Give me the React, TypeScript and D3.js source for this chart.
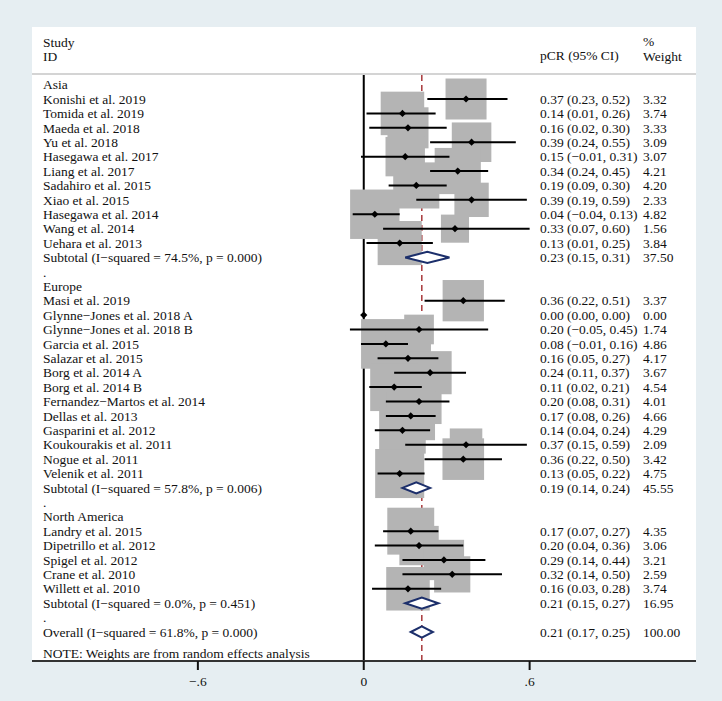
import React from "react";
import * as d3 from "d3";

// ---------------- data ----------------
const groupNames = ["Asia", "Europe", "North America"];

const studyNames = [
  "Konishi et al. 2019", "Tomida et al. 2019", "Maeda et al. 2018", "Yu et al. 2018",
  "Hasegawa et al. 2017", "Liang et al. 2017", "Sadahiro et al. 2015", "Xiao et al. 2015",
  "Hasegawa et al. 2014", "Wang et al. 2014", "Uehara et al. 2013",
  "Masi et al. 2019", "Glynne−Jones et al. 2018 A", "Glynne−Jones et al. 2018 B",
  "Garcia et al. 2015", "Salazar et al. 2015", "Borg et al. 2014 A", "Borg et al. 2014 B",
  "Fernandez−Martos et al. 2014", "Dellas et al. 2013", "Gasparini et al. 2012",
  "Koukourakis et al. 2011", "Nogue et al. 2011", "Velenik et al. 2011",
  "Landry et al. 2015", "Dipetrillo et al. 2012", "Spigel et al. 2012",
  "Crane et al. 2010", "Willett et al. 2010",
];
const studyGroup = [
  0, 0, 0, 0, 0, 0, 0, 0, 0, 0, 0,
  1, 1, 1, 1, 1, 1, 1, 1, 1, 1, 1, 1, 1,
  2, 2, 2, 2, 2,
];
const pointEstimates = [
  0.37, 0.14, 0.16, 0.39, 0.15, 0.34, 0.19, 0.39, 0.04, 0.33, 0.13,
  0.36, 0.0, 0.2, 0.08, 0.16, 0.24, 0.11, 0.2, 0.17, 0.14, 0.37, 0.36, 0.13,
  0.17, 0.2, 0.29, 0.32, 0.16,
];
const lowerCI = [
  0.23, 0.01, 0.02, 0.24, -0.01, 0.24, 0.09, 0.19, -0.04, 0.07, 0.01,
  0.22, 0.0, -0.05, -0.01, 0.05, 0.11, 0.02, 0.08, 0.08, 0.04, 0.15, 0.22, 0.05,
  0.07, 0.04, 0.14, 0.14, 0.03,
];
const upperCI = [
  0.52, 0.26, 0.3, 0.55, 0.31, 0.45, 0.3, 0.59, 0.13, 0.6, 0.25,
  0.51, 0.0, 0.45, 0.16, 0.27, 0.37, 0.21, 0.31, 0.26, 0.24, 0.59, 0.5, 0.22,
  0.27, 0.36, 0.44, 0.5, 0.28,
];
const weights = [
  3.32, 3.74, 3.33, 3.09, 3.07, 4.21, 4.2, 2.33, 4.82, 1.56, 3.84,
  3.37, 0.0, 1.74, 4.86, 4.17, 3.67, 4.54, 4.01, 4.66, 4.29, 2.09, 3.42, 4.75,
  4.35, 3.06, 3.21, 2.59, 3.74,
];

const subtotalI2 = ["74.5%", "57.8%", "0.0%"];
const subtotalP = ["0.000", "0.006", "0.451"];
const subtotalES = [0.23, 0.19, 0.21];
const subtotalLo = [0.15, 0.14, 0.15];
const subtotalHi = [0.31, 0.24, 0.27];
const subtotalW = [37.5, 45.55, 16.95];

const overallI2 = "61.8%";
const overallP = "0.000";
const overallES = [0.21, 0.17, 0.25];
const overallW = 100;

const tickValues = [-0.6, 0, 0.6];
const tickLabels = ["−.6", "0", ".6"];

// ---------------- layout ----------------
const W = 722;
const H = 701;
const panel = { x0: 32, x1: 696, y0: 27, y1: 661 };
const row0 = 84.6;
const rowStep = 14.405;
const textX = 43;
const esX = 540;
const wX = 643;
const fontSize = 13.5;
const font = '"Liberation Serif", "Times New Roman", Times, serif';
const boxK = 22.5;
const navy = "#1c2f6b";
const grey = "#b4b4b4";
const bg = "#e6eef2";

type Row =
  | { kind: "header"; label: string }
  | { kind: "study"; idx: number }
  | { kind: "subtotal"; g: number }
  | { kind: "dot" }
  | { kind: "overall" };

function buildRows(): Row[] {
  const rows: Row[] = [];
  groupNames.forEach((g, gi) => {
    rows.push({ kind: "header", label: g });
    studyNames.forEach((_, i) => {
      if (studyGroup[i] === gi) rows.push({ kind: "study", idx: i });
    });
    rows.push({ kind: "subtotal", g: gi });
    rows.push({ kind: "dot" });
  });
  rows.push({ kind: "overall" });
  return rows;
}

export default function App() {
  const x = d3.scaleLinear().domain([-1.2, 1.2]).range([32, 695.5]);
  const rows = buildRows();
  const y = (i: number) => row0 + rowStep * i;
  const f2 = d3.format(".2f");
  const esText = (e: number, l: number, h: number) => `${f2(e)} (${f2(l)}, ${f2(h)})`;
  const diamond = (e: number, l: number, h: number, cy: number) => {
    const hh = 5.6;
    return d3.line()([
      [x(l), cy],
      [x(e), cy - hh],
      [x(h), cy],
      [x(e), cy + hh],
      [x(l), cy],
    ]) + "Z";
  };
  const txt = { fontFamily: font, fontSize, fill: "#111", whiteSpace: "pre" as const };

  const studyRows = rows
    .map((r, i) => ({ r, i }))
    .filter((d) => d.r.kind === "study") as { r: { kind: "study"; idx: number }; i: number }[];

  const lineTop = 75;

  return (
    <svg width={W} height={H} style={{ position: "absolute", left: 0, top: 0, display: "block" }}>
      <rect x={0} y={0} width={W} height={H} fill={bg} />
      <rect x={panel.x0} y={panel.y0} width={panel.x1 - panel.x0} height={panel.y1 - panel.y0} fill="#fff" />

      {/* header */}
      <text x={textX} y={47} style={txt}>Study</text>
      <text x={textX} y={61} style={txt}>ID</text>
      <text x={esX} y={60} style={txt}>pCR (95% CI)</text>
      <text x={wX} y={46} style={txt}>%</text>
      <text x={wX} y={61} style={txt}>Weight</text>
      <line x1={panel.x0} x2={panel.x1} y1={74} y2={74} stroke="#c6c6c6" strokeWidth={1.5} />

      {/* reference lines */}
      <line x1={x(overallES[0])} x2={x(overallES[0])} y1={lineTop} y2={panel.y1} stroke="#a8383a" strokeWidth={1.5} strokeDasharray="6,4" />
      <line x1={x(0)} x2={x(0)} y1={lineTop} y2={panel.y1} stroke="#000" strokeWidth={2} />

      {/* boxes */}
      {studyRows.map(({ r, i }) => {
        const w = weights[r.idx];
        if (w <= 0) return null;
        const s = boxK * Math.sqrt(w);
        return <rect key={"b" + i} x={x(pointEstimates[r.idx]) - s / 2} y={y(i) - s / 2} width={s} height={s} fill={grey} />;
      })}

      {/* CI lines and points */}
      {studyRows.map(({ r, i }) => {
        const e = pointEstimates[r.idx];
        const cy = y(i);
        const px = x(e);
        const d = 3.6;
        return (
          <g key={"c" + i}>
            <line x1={x(lowerCI[r.idx])} x2={x(upperCI[r.idx])} y1={cy} y2={cy} stroke="#000" strokeWidth={2} />
            <path d={`M${px - d},${cy}L${px},${cy - d}L${px + d},${cy}L${px},${cy + d}Z`} fill="#000" />
          </g>
        );
      })}

      {/* diamonds */}
      {rows.map((r, i) => {
        if (r.kind === "subtotal") {
          return <path key={"d" + i} d={diamond(subtotalES[r.g], subtotalLo[r.g], subtotalHi[r.g], y(i))} fill="#fff" stroke={navy} strokeWidth={2} />;
        }
        if (r.kind === "overall") {
          return <path key={"d" + i} d={diamond(overallES[0], overallES[1], overallES[2], y(i))} fill="#fff" stroke={navy} strokeWidth={2} />;
        }
        return null;
      })}

      {/* text rows */}
      {rows.map((r, i) => {
        const by = y(i) + 4.7;
        if (r.kind === "header") return <text key={"t" + i} x={textX} y={by} style={txt}>{r.label}</text>;
        if (r.kind === "dot") return <text key={"t" + i} x={textX} y={by} style={txt}>.</text>;
        if (r.kind === "study") {
          const k = r.idx;
          return (
            <g key={"t" + i}>
              <text x={textX} y={by} style={txt}>{studyNames[k]}</text>
              <text x={esX} y={by} style={txt}>{esText(pointEstimates[k], lowerCI[k], upperCI[k])}</text>
              <text x={wX} y={by} style={txt}>{f2(weights[k])}</text>
            </g>
          );
        }
        if (r.kind === "subtotal") {
          const g = r.g;
          return (
            <g key={"t" + i}>
              <text x={textX} y={by} style={txt}>{`Subtotal (I−squared = ${subtotalI2[g]}, p = ${subtotalP[g]})`}</text>
              <text x={esX} y={by} style={txt}>{esText(subtotalES[g], subtotalLo[g], subtotalHi[g])}</text>
              <text x={wX} y={by} style={txt}>{f2(subtotalW[g])}</text>
            </g>
          );
        }
        return (
          <g key={"t" + i}>
            <text x={textX} y={by} style={txt}>{`Overall (I−squared = ${overallI2}, p = ${overallP})`}</text>
            <text x={esX} y={by} style={txt}>{esText(overallES[0], overallES[1], overallES[2])}</text>
            <text x={wX} y={by} style={txt}>{f2(overallW)}</text>
          </g>
        );
      })}
      <text x={textX} y={657.5} style={txt}>NOTE: Weights are from random effects analysis</text>

      {/* axis */}
      <line x1={panel.x0} x2={panel.x1} y1={panel.y1} y2={panel.y1} stroke="#333" strokeWidth={2} />
      {tickValues.map((v, i) => (
        <g key={"k" + i}>
          <line x1={x(v)} x2={x(v)} y1={panel.y1} y2={panel.y1 + 9} stroke="#111" strokeWidth={2} />
          <text x={x(v)} y={686} textAnchor="middle" style={txt}>{tickLabels[i]}</text>
        </g>
      ))}
    </svg>
  );
}
